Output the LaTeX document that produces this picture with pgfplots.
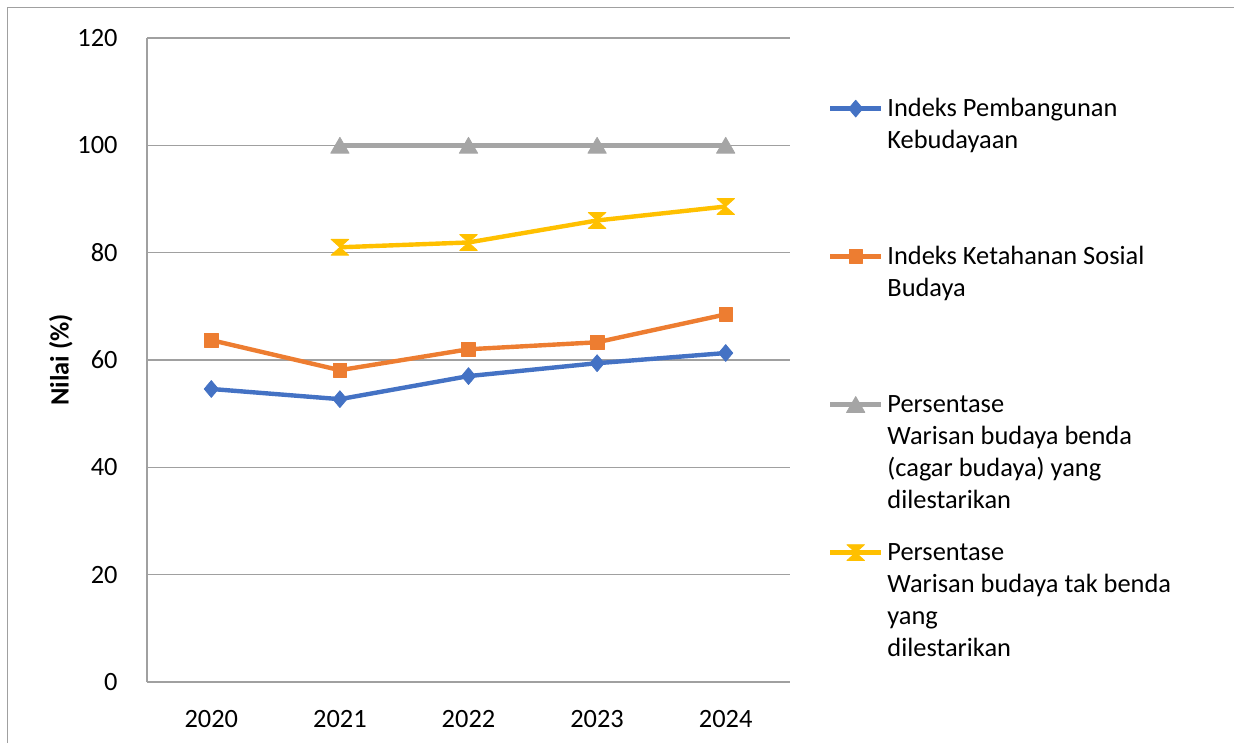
\documentclass[border=0pt]{standalone}
\usepackage{fontspec}
\setmainfont{Carlito}
\usepackage{pgfplots}
\pgfplotsset{compat=1.18}
\definecolor{cblue}{RGB}{68,114,196}
\definecolor{corange}{RGB}{237,125,49}
\definecolor{cgray}{RGB}{165,165,165}
\definecolor{cyellow}{RGB}{255,192,0}
\definecolor{gridgray}{RGB}{160,160,160}
\pgfdeclareplotmark{hourglass}{%
  \pgfpathmoveto{\pgfqpoint{-\pgfplotmarksize}{0.9\pgfplotmarksize}}%
  \pgfpathlineto{\pgfqpoint{\pgfplotmarksize}{0.9\pgfplotmarksize}}%
  \pgfpathlineto{\pgfqpoint{-\pgfplotmarksize}{-0.9\pgfplotmarksize}}%
  \pgfpathlineto{\pgfqpoint{\pgfplotmarksize}{-0.9\pgfplotmarksize}}%
  \pgfpathclose
  \pgfusepathqfillstroke}
\newcommand\lf{\fontsize{13.2pt}{16pt}\selectfont}
\begin{document}
\begin{tikzpicture}
\useasboundingbox (0,0) rectangle (617pt,371.5pt);
\draw[gridgray, line width=0.75pt] (3.65pt,0) -- (3.65pt,367.85pt) -- (617pt,367.85pt);
\begin{axis}[
  at={(73.5pt,30.5pt)}, anchor=south west,
  scale only axis, width=321.5pt, height=322pt,
  xmin=-0.5, xmax=4.5, ymin=0, ymax=120,
  xtick={0,1,2,3,4}, xticklabels={2020,2021,2022,2023,2024},
  ytick={0,20,40,60,80,100,120},
  ymajorgrids, grid style={gridgray, line width=0.75pt},
  axis x line*=bottom, axis y line*=left,
  axis line style={gridgray, line width=0.75pt, -},
  major tick length=0pt,
  tick label style={font=\lf, inner sep=0pt},
  /pgf/number format/assume math mode=true,
  xticklabel style={anchor=north, yshift=-14pt},
  yticklabel style={anchor=east, xshift=-14.5pt},
  ylabel={Nilai (\%)},
  ylabel style={font=\lf\bfseries, at={(axis description cs:-0.1342,0.5)}, anchor=center},
  legend style={draw=none, fill=none, inner sep=0pt, outer sep=0pt,
    at={(axis description cs:1.0591,0.9115)}, anchor=north west,
    font=\lf, column sep=2pt, row sep=0pt, cells={anchor=base west},
    nodes={inner sep=0pt, text height=11pt, text depth=63pt}},
  legend image code/.code={\draw[mark repeat=2,mark phase=2,#1] plot coordinates {(0pt,4.2pt) (12.75pt,4.2pt) (25.5pt,4.2pt)};},
  every axis plot/.append style={line width=2.2pt, line join=round},
]
\addplot[cblue, mark=diamond*, mark size=4.2pt, mark options={solid, fill=cblue, line width=0.4pt, xscale=1.12}]
  coordinates {(0,54.6) (1,52.7) (2,57.0) (3,59.4) (4,61.3)};
\addlegendentry{\parbox[t]{200pt}{Indeks Pembangunan\\Kebudayaan}}
\addplot[corange, mark=square*, mark size=3.4pt, mark options={solid, fill=corange, line width=0.4pt}]
  coordinates {(0,63.7) (1,58.1) (2,62.0) (3,63.3) (4,68.5)};
\addlegendentry{\parbox[t]{200pt}{Indeks Ketahanan Sosial\\Budaya}}
\addplot[cgray, mark=triangle*, mark size=5.3pt, mark options={solid, fill=cgray, line width=0.4pt, yshift=-1.3pt}]
  coordinates {(1,100) (2,100) (3,100) (4,100)};
\addlegendentry{\parbox[t]{200pt}{Persentase\\Warisan budaya benda\\(cagar budaya) yang\\dilestarikan}}
\addplot[cyellow, mark=hourglass, mark size=4.4pt, mark options={solid, fill=cyellow, line width=0.4pt}]
  coordinates {(1,81.0) (2,81.9) (3,86.0) (4,88.6)};
\addlegendentry{\parbox[t]{200pt}{Persentase\\Warisan budaya tak benda\\yang\\dilestarikan}}
\end{axis}
\end{tikzpicture}
\end{document}
